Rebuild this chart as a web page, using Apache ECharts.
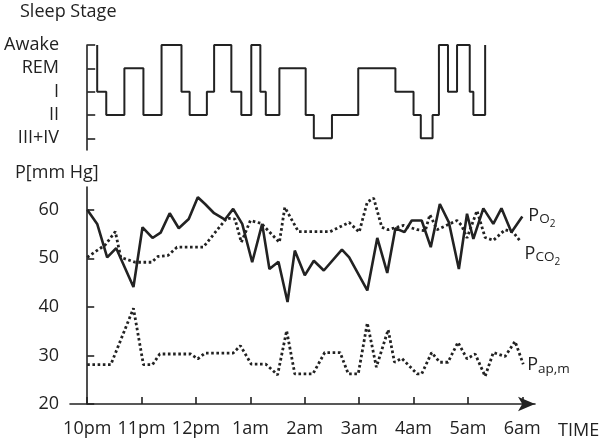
<!DOCTYPE html>
<html>
<head>
<meta charset="utf-8">
<title>Sleep stage and pressures</title>
<script src="https://cdn.jsdelivr.net/npm/echarts@6/dist/echarts.min.js"></script>
<style>
  html, body { margin: 0; padding: 0; background: #fff; }
  #chart { width: 600px; height: 442px; }
</style>
</head>
<body>
<div id="chart"></div>
<script>
// all times are minutes after 10pm
const timeTicks = [0, 60, 120, 180, 240, 300, 360, 420, 480]
const timeLabels = ['10pm', '11pm', '12pm', '1am', '2am', '3am', '4am', '5am', '6am']
const stageNames = ['III+IV', 'II', 'I', 'REM', 'Awake']
const pressureTicks = [20, 30, 40, 50, 60]

// hypnogram: stage held from each time until the next one
const sleepTime = [11, 11, 21, 41, 62, 82, 104, 113, 132, 140, 159, 170, 181, 191, 197, 212,
  241, 250, 270, 299, 340, 360, 368, 381, 388, 398, 408, 422, 426, 439]
const sleepStage = ['Awake', 'I', 'II', 'REM', 'II', 'Awake', 'I', 'II', 'I', 'Awake', 'I', 'II',
  'Awake', 'I', 'II', 'REM', 'II', 'III+IV', 'II', 'REM', 'I', 'II', 'III+IV', 'II', 'Awake',
  'I', 'Awake', 'I', 'II', 'Awake']

const po2Time = [0, 11, 22, 32, 51, 61, 72, 81, 91, 101, 112, 122, 130, 140, 152, 161, 171, 182,
  193, 201, 211, 221, 229, 240, 250, 261, 281, 289, 309, 320, 331, 340, 350, 358, 369, 379, 389,
  399, 410, 419, 426, 437, 448, 457, 468, 480]
const po2Value = [60, 57.1, 50.2, 52.1, 44.1, 56.4, 54.2, 55.3, 59.3, 56.2, 58.1, 62.6, 61.2, 59.3,
  58, 60.2, 57.1, 49.2, 57.1, 47.8, 49.3, 41, 51.6, 46.5, 49.5, 47.5, 51.8, 50.2, 43.4, 54.2, 47,
  56.2, 55.4, 57.8, 57.8, 52.3, 61.2, 57.4, 47.8, 59.2, 54, 60.3, 57.1, 60.3, 55.4, 58.6]

const pco2Time = [0, 20, 31, 37, 53, 71, 78, 89, 99, 128, 154, 163, 170, 180, 192, 212, 218, 233,
  268, 289, 300, 309, 316, 325, 332, 349, 364, 373, 378, 386, 408, 413, 419, 430, 439, 448, 461,
  470, 477]
const pco2Value = [50.2, 52.8, 55.5, 50.2, 49.2, 49.2, 50.4, 50.6, 52.3, 52.3, 58.3, 58.1, 53.3,
  57.8, 57.2, 53.3, 60.5, 55.5, 55.5, 57.4, 55.4, 61.6, 62.4, 56.4, 55.9, 56.8, 55.9, 55.7, 59,
  55.9, 57.8, 56.8, 54.2, 59.8, 54.3, 53.7, 55.9, 55.4, 53.7]

const papTime = [0, 26, 51, 62, 72, 80, 114, 122, 130, 161, 169, 181, 197, 210, 220, 229, 249,
  262, 279, 288, 299, 309, 319, 332, 339, 347, 364, 369, 380, 389, 398, 409, 419, 428, 439, 448,
  461, 472, 481]
const papValue = [28.1, 28.1, 39.7, 28.1, 28.1, 30.3, 30.3, 29.3, 30.5, 30.5, 32, 28.2, 28.2, 26,
  35.1, 26.2, 26.2, 30.6, 30.6, 26.2, 26.2, 36.7, 27.6, 35.3, 28.6, 29.4, 26.2, 26.2, 30.6, 28.6,
  28.6, 32.7, 29.3, 30.3, 25.7, 30.6, 29.8, 32.9, 28.2]

const ink = '#222'
const font = '"Open Sans", "Noto Sans", sans-serif'
const pair = (ts, vs) => ts.map((t, i) => [t, vs[i]])

// subscript styles for the end labels
const subRich = {
  p: { fontSize: 18, lineHeight: 18, verticalAlign: 'top', color: ink, fontFamily: font },
  s: { fontSize: 13.5, lineHeight: 14, verticalAlign: 'top', padding: [6, 0, 0, 0], color: ink, fontFamily: font },
  ss: { fontSize: 10, lineHeight: 10, verticalAlign: 'top', padding: [13, 0, 0, 0], color: ink, fontFamily: font }
}

const dotted = { color: ink, width: 2.8, type: [2.6, 2.6], cap: 'butt' }

const chart = echarts.init(document.getElementById('chart'))
chart.setOption({
  animation: false,
  textStyle: { fontFamily: font, color: ink },
  graphic: [
    { type: 'text', x: 20, y: 12, style: { text: 'Sleep Stage', fontSize: 18, fontFamily: font, fill: ink, verticalAlign: 'middle' } },
    { type: 'text', x: 15, y: 173, style: { text: 'P[mm Hg]', fontSize: 18, fontFamily: font, fill: ink, verticalAlign: 'middle' } },
    { type: 'text', x: 558, y: 431, style: { text: 'TIME', fontSize: 18, fontFamily: font, fill: ink, verticalAlign: 'middle' } }
  ],
  grid: [
    { left: 70, right: 65, top: 45, height: 105 },
    { left: 70, right: 65, top: 187, bottom: 38 }
  ],
  xAxis: [
    { gridIndex: 0, type: 'value', min: -19, max: 494, show: false },
    {
      gridIndex: 1,
      type: 'value',
      min: -19,
      max: 494,
      axisLine: { show: true, symbol: ['none', 'arrow'], symbolSize: [11, 17], lineStyle: { color: ink, width: 1.6 } },
      axisTick: { show: true, inside: true, length: 7, customValues: timeTicks, lineStyle: { color: ink, width: 1.6 } },
      axisLabel: {
        customValues: timeTicks,
        formatter: (v) => timeLabels[timeTicks.indexOf(v)],
        margin: 16,
        fontSize: 18,
        color: ink
      },
      splitLine: { show: false }
    }
  ],
  yAxis: [
    {
      gridIndex: 0,
      type: 'value',
      min: -0.5,
      max: 4,
      axisLine: { show: true, lineStyle: { color: ink, width: 1.6 } },
      axisTick: { show: true, inside: true, length: 8, customValues: [0, 1, 2, 3, 4], lineStyle: { color: ink, width: 1.6 } },
      axisLabel: {
        customValues: [0, 1, 2, 3, 4],
        formatter: (v) => stageNames[v],
        margin: 11,
        fontSize: 18,
        color: ink
      },
      splitLine: { show: false }
    },
    {
      gridIndex: 1,
      type: 'value',
      min: 20,
      max: 64.7,
      axisLine: { show: true, lineStyle: { color: ink, width: 1.6 } },
      axisTick: { show: true, inside: true, length: 7, customValues: pressureTicks, lineStyle: { color: ink, width: 1.6 } },
      axisLabel: { customValues: pressureTicks, margin: 11, fontSize: 18, color: ink },
      splitLine: { show: false }
    }
  ],
  series: [
    {
      name: 'Sleep Stage',
      type: 'line',
      xAxisIndex: 0,
      yAxisIndex: 0,
      step: 'end',
      symbol: 'none',
      lineStyle: { color: ink, width: 2 },
      data: sleepTime.map((t, i) => [t, stageNames.indexOf(sleepStage[i])])
    },
    {
      name: 'PO2',
      type: 'line',
      xAxisIndex: 1,
      yAxisIndex: 1,
      symbol: 'none',
      lineStyle: { color: ink, width: 2.6 },
      data: pair(po2Time, po2Value),
      endLabel: { show: true, formatter: '{p|P}{s|O}{ss|2}', rich: subRich, offset: [-2, -1] }
    },
    {
      name: 'PCO2',
      type: 'line',
      xAxisIndex: 1,
      yAxisIndex: 1,
      symbol: 'none',
      lineStyle: dotted,
      data: pair(pco2Time, pco2Value),
      endLabel: { show: true, formatter: '{p|P}{s|CO}{ss|2}', rich: subRich, offset: [-3, 13] }
    },
    {
      name: 'Pap,m',
      type: 'line',
      xAxisIndex: 1,
      yAxisIndex: 1,
      symbol: 'none',
      lineStyle: dotted,
      data: pair(papTime, papValue),
      endLabel: { show: true, formatter: '{p|P}{s|ap,m}', rich: subRich, offset: [-4, 1] }
    }
  ]
})
</script>
</body>
</html>
